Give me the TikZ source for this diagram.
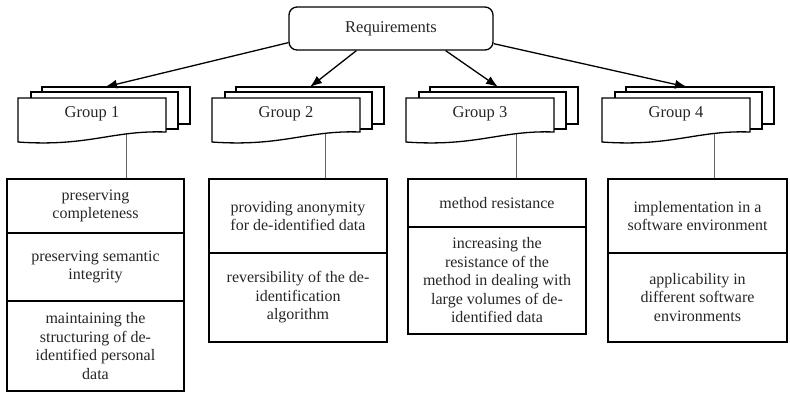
\documentclass[tikz,border=0pt]{standalone}
\usepackage{fontspec}
\setmainfont{Liberation Serif}
\usetikzlibrary{arrows.meta}
\tikzset{
  cell/.style={draw, line width=1.3pt, rectangle, align=center, inner sep=0pt,
    font=\fontsize{16}{18.5}\selectfont, text=black!85},
  page/.style={draw, line width=1.3pt, fill=white, line join=miter},
  grouptext/.style={font=\fontsize{16.5}{19}\selectfont, text=black!85, inner sep=0pt},
  conn/.style={draw=black!60, line width=0.8pt},
  arr/.style={draw, line width=1.3pt, -{Latex[length=12pt,width=9pt]}},
  reqnode/.style={draw, line width=1.3pt, rounded corners=8pt, font=\fontsize{16.5}{19}\selectfont, text=black!85}
}
% #1 name, #2 x0, #3 arrow offset, #4 text, #5 connector offset, #6 box name
\newcommand\mdoc[6]{%
  \coordinate (#1b) at ({#2+#5},130);
  \draw[conn] (#1b) -- (#1b |- #6.north);
  \draw[page] ({#2+24},87) rectangle ({#2+172},124);
  \draw[page] ({#2+13},92) rectangle ({#2+160},129);
  \draw[page] (#2,98) -- ({#2+148},98) -- ({#2+148},132)
     .. controls ({#2+95},130) and ({#2+70},147) .. (#2,142) -- cycle;
  \node[grouptext] (#1) at ({#2+74},114) {#4};
  \coordinate (#1t) at ({#2+#3},87);
}
\begin{document}
\begin{tikzpicture}[x=1pt,y=-1pt]
\useasboundingbox (0,0) rectangle (790,392);

% requirement cells
\node[cell, minimum width=177pt, minimum height=54pt] (b1a) at (95.5,206) {preserving\\completeness};
\node[cell, minimum width=177pt, minimum height=68pt] (b1b) at (95.5,267) {preserving semantic\\integrity};
\node[cell, minimum width=177pt, minimum height=90pt] (b1c) at (95.5,346) {maintaining the\\structuring of de-\\identified personal\\data};

\node[cell, minimum width=178pt, minimum height=74pt] (b2a) at (298,216) {providing anonymity\\for de-identified data};
\node[cell, minimum width=178pt, minimum height=89pt] (b2b) at (298,297.5) {reversibility of the de-\\identification\\algorithm};

\node[cell, minimum width=178pt, minimum height=48pt] (b3a) at (497,203) {method resistance};
\node[cell, minimum width=178pt, minimum height=107pt] (b3b) at (497,280.5) {increasing the\\resistance of the\\method in dealing with\\large volumes of de-\\identified data};

\node[cell, minimum width=179pt, minimum height=74pt] (b4a) at (697.5,216) {implementation in a\\software environment};
\node[cell, minimum width=179pt, minimum height=89pt] (b4b) at (697.5,297.5) {applicability in\\different software\\environments};

% groups
\mdoc{g1}{18}{87}{Group 1}{108}{b1a}
\mdoc{g2}{212}{98}{Group 2}{113}{b2a}
\mdoc{g3}{406}{92}{Group 3}{110}{b3a}
\mdoc{g4}{602}{85}{Group 4}{112}{b4a}

% root
\node[reqnode, minimum width=204pt, minimum height=43pt] (req) at (391,28.5) {Requirements};

\draw[arr] ([yshift=8pt]req.south west) -- (g1t);
\draw[arr] ([xshift=68pt]req.south west) -- (g2t);
\draw[arr] ([xshift=-48pt]req.south east) -- (g3t);
\draw[arr] ([yshift=7pt]req.south east) -- (g4t);
\end{tikzpicture}
\end{document}
